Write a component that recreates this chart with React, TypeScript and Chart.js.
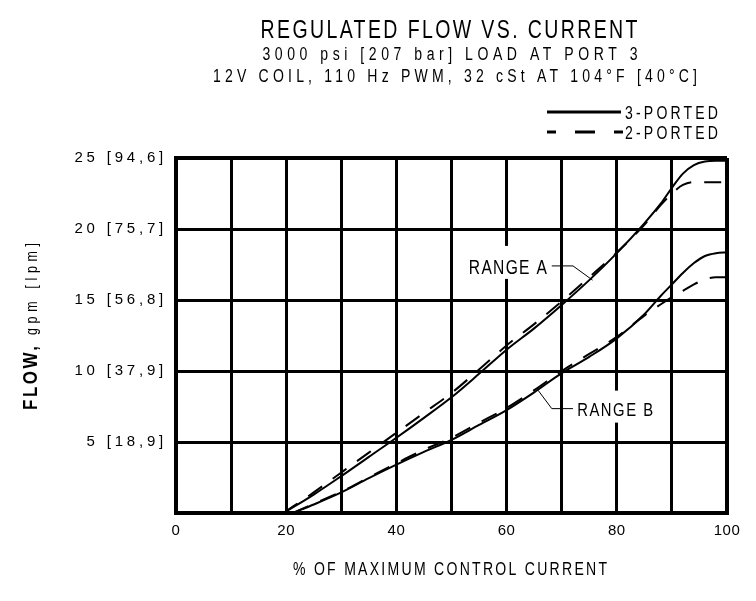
import { useEffect, useRef } from 'react';
import { Chart, registerables } from 'chart.js';

Chart.register(...registerables);

const FONT = '"Liberation Sans", Arial, sans-serif';

// ---------- data ----------
const titleLines = [
  'REGULATED FLOW VS. CURRENT',
  '3000 psi [207 bar] LOAD AT PORT 3',
  '12V COIL, 110 Hz PWM, 32 cSt AT 104°F [40°C]',
];
const xAxisTitle = '% OF MAXIMUM CONTROL CURRENT';
const yAxisTitleBold = 'FLOW,';
const yAxisTitleUnit = 'gpm [lpm]';
const seriesNames = ['3-PORTED', '2-PORTED'];
const rangeNames = ['RANGE A', 'RANGE B'];

const xTickLabels = ['0', '', '20', '', '40', '', '60', '', '80', '', '100'];
const yTickLabels = ['', '5 [18,9]', '10 [37,9]', '15 [56,8]', '20 [75,7]', '25 [94,6]'];

const pctA = [19.5, 25, 30, 35, 40, 45, 50, 55, 60, 65, 70, 75, 80, 85, 88, 90, 92, 94, 96, 98, 100];
const flowA3 = [0, 1.3, 2.6, 3.95, 5.3, 6.7, 8.15, 9.8, 11.5, 13.0, 14.65, 16.4, 18.3, 20.4, 21.8, 22.9, 23.9, 24.5, 24.75, 24.8, 24.8];
const flowA2 = [0, 1.45, 2.85, 4.25, 5.65, 7.05, 8.45, 10.1, 11.8, 13.3, 14.9, 16.6, 18.35, 20.3, 21.7, 22.5, 23.1, 23.3, 23.3, 23.3, 23.3];

const pctB = [21.2, 25, 30, 35, 40, 45, 50, 55, 60, 65, 70, 75, 80, 85, 88, 90, 92, 94, 96, 98, 100];
const flowB3 = [0, 0.6, 1.45, 2.45, 3.4, 4.3, 5.15, 6.2, 7.25, 8.5, 9.85, 11.0, 12.3, 14.0, 15.3, 16.1, 16.9, 17.6, 18.1, 18.3, 18.35];
const flowB2 = [0, 0.65, 1.5, 2.5, 3.5, 4.45, 5.3, 6.35, 7.4, 8.65, 10.0, 11.2, 12.4, 13.9, 14.7, 15.2, 15.65, 16.1, 16.45, 16.6, 16.6];

// label annotation anchors (data units): [textX, textY, elbowFromX, elbowToX, endX, endY]
const rangeALeader = [67.3, 17.4, 68.2, 72.05, 75.6, 16.4];
const rangeBLeader = [72.8, 7.35, 72.05, 68.2, 65.7, 8.65];

const toPoints = (xs: number[], ys: number[]) => xs.map((x, i) => ({ x, y: ys[i] }));

// draw condensed text (horizontally scaled) with letter spacing to fit a target width
function drawFit(
  ctx: CanvasRenderingContext2D,
  text: string,
  x: number,
  y: number,
  font: string,
  target: number,
  align: 'left' | 'center' | 'right' = 'left',
  squeeze = 0.78
) {
  ctx.save();
  ctx.font = font;
  (ctx as any).letterSpacing = '0px';
  const w = ctx.measureText(text).width;
  const n = text.length;
  let k = squeeze;
  if (w * k > target) k = target / w;
  const sp = n > 1 ? Math.max(0, (target / k - w) / (n - 1)) : 0;
  const total = (w + sp * (n - 1)) * k;
  let sx = x;
  if (align === 'center') sx = x - total / 2;
  if (align === 'right') sx = x - total;
  ctx.translate(sx, y);
  ctx.scale(k, 1);
  (ctx as any).letterSpacing = sp + 'px';
  ctx.textAlign = 'left';
  ctx.textBaseline = 'alphabetic';
  ctx.fillStyle = '#000';
  ctx.fillText(text, 0, 0);
  ctx.restore();
}

// per-axis letter spacing for the library's own tick labels
const tickSpacing: Record<string, string> = { x: '0.5px', y: '3.8px' };

const decorPlugin = {
  id: 'decor',
  beforeDraw(chart: any) {
    const ctx = chart.ctx;
    ctx.save();
    ctx.fillStyle = '#fff';
    ctx.fillRect(0, 0, chart.width, chart.height);
    ctx.restore();
    for (const id of ['x', 'y']) {
      const sc = chart.scales[id];
      if (sc && !sc.__spaced) {
        const orig = sc.drawLabels.bind(sc);
        sc.drawLabels = (area: any) => {
          const c = sc.ctx;
          const prev = (c as any).letterSpacing;
          (c as any).letterSpacing = tickSpacing[id];
          orig(area);
          (c as any).letterSpacing = prev;
        };
        sc.__spaced = true;
      }
    }
  },
  beforeDatasetsDraw(chart: any) {
    const ctx = chart.ctx;
    const xs = chart.scales.x;
    const ys = chart.scales.y;
    ctx.save();
    ctx.fillStyle = '#fff';
    const ax = xs.getPixelForValue(rangeALeader[0]);
    const ay = ys.getPixelForValue(rangeALeader[1]);
    ctx.fillRect(ax - 86, ay - 20, 90, 33);
    const bx = xs.getPixelForValue(rangeBLeader[0]);
    const by = ys.getPixelForValue(rangeBLeader[1]);
    ctx.fillRect(bx - 3, by - 18, 86, 32);
    ctx.restore();
  },
  afterDraw(chart: any) {
    const ctx = chart.ctx;
    const xs = chart.scales.x;
    const ys = chart.scales.y;
    (ctx as any).letterSpacing = '0px';

    drawFit(ctx, titleLines[0], 449, 38, `25px ${FONT}`, 377, 'center');
    drawFit(ctx, titleLines[1], 450, 60, `18px ${FONT}`, 375, 'center');
    drawFit(ctx, titleLines[2], 455, 82, `18px ${FONT}`, 484, 'center');

    ctx.save();
    ctx.strokeStyle = '#000';
    ctx.lineWidth = 3;
    ctx.beginPath();
    ctx.moveTo(547, 112);
    ctx.lineTo(621, 112);
    ctx.stroke();
    ctx.setLineDash([20, 19]);
    ctx.lineDashOffset = 11;
    ctx.beginPath();
    ctx.moveTo(547, 132);
    ctx.lineTo(623, 132);
    ctx.stroke();
    ctx.restore();
    drawFit(ctx, seriesNames[0], 625, 119, `18px ${FONT}`, 93);
    drawFit(ctx, seriesNames[1], 625, 139, `18px ${FONT}`, 93);

    drawFit(ctx, xAxisTitle, 450, 575, `18px ${FONT}`, 314, 'center');
    ctx.save();
    ctx.translate(37, 326);
    ctx.rotate(-Math.PI / 2);
    drawFit(ctx, yAxisTitleBold, -84, 0, `bold 20px ${FONT}`, 64, 'left', 0.85);
    drawFit(ctx, yAxisTitleUnit, -9, 0, `16px ${FONT}`, 92);
    ctx.restore();

    const drawLeader = (l: number[]) => {
      ctx.save();
      ctx.strokeStyle = '#000';
      ctx.lineWidth = 1;
      ctx.beginPath();
      ctx.moveTo(xs.getPixelForValue(l[2]), ys.getPixelForValue(l[1]));
      ctx.lineTo(xs.getPixelForValue(l[3]), ys.getPixelForValue(l[1]));
      ctx.lineTo(xs.getPixelForValue(l[4]), ys.getPixelForValue(l[5]));
      ctx.stroke();
      ctx.restore();
    };
    drawLeader(rangeALeader);
    drawLeader(rangeBLeader);
    const ax = xs.getPixelForValue(rangeALeader[0]);
    const ay = ys.getPixelForValue(rangeALeader[1]);
    drawFit(ctx, rangeNames[0], ax, ay + 8, `20px ${FONT}`, 78, 'right');
    const bx = xs.getPixelForValue(rangeBLeader[0]);
    const by = ys.getPixelForValue(rangeBLeader[1]);
    drawFit(ctx, rangeNames[1], bx, by + 7, `19px ${FONT}`, 76, 'left');
  },
};

export default function App() {
  const ref = useRef<HTMLCanvasElement | null>(null);
  useEffect(() => {
    document.body.style.margin = '0';
    const canvas = ref.current!;
    const lineBase = {
      borderColor: '#000',
      borderWidth: 2,
      pointRadius: 0,
      fill: false,
      cubicInterpolationMode: 'monotone' as const,
    };
    const chart = new Chart(canvas, {
      type: 'line',
      data: {
        datasets: [
          { ...lineBase, label: seriesNames[0] + ' A', data: toPoints(pctA, flowA3) },
          { ...lineBase, label: seriesNames[1] + ' A', data: toPoints(pctA, flowA2), borderDash: [17, 13] },
          { ...lineBase, label: seriesNames[0] + ' B', data: toPoints(pctB, flowB3) },
          { ...lineBase, label: seriesNames[1] + ' B', data: toPoints(pctB, flowB2), borderDash: [17, 13] },
        ],
      },
      options: {
        animation: false,
        responsive: false,
        devicePixelRatio: 1,
        layout: { padding: { left: 0, right: 29, top: 158, bottom: 0 } },
        plugins: {
          legend: { display: false },
          tooltip: { enabled: false },
          title: { display: false },
        },
        scales: {
          x: {
            type: 'linear',
            min: 0,
            max: 100,
            afterFit: (s: any) => {
              s.height = 88;
            },
            ticks: {
              stepSize: 10,
              autoSkip: false,
              maxRotation: 0,
              padding: 9,
              color: '#000',
              font: { family: FONT, size: 15 },
              callback: (_v: any, i: number) => xTickLabels[i],
            },
            grid: {
              color: '#000',
              drawTicks: false,
              lineWidth: (c: any) => (c.tick && (c.tick.value === 0 || c.tick.value === 100) ? 4 : 3),
            },
            border: { display: true, color: '#000', width: 4 },
          },
          y: {
            type: 'linear',
            min: 0,
            max: 25,
            afterFit: (s: any) => {
              s.width = 176;
            },
            ticks: {
              stepSize: 5,
              autoSkip: false,
              padding: 9,
              color: '#000',
              font: { family: FONT, size: 15 },
              callback: (_v: any, i: number) => yTickLabels[i],
            },
            grid: {
              color: '#000',
              drawTicks: false,
              lineWidth: (c: any) => (c.tick && (c.tick.value === 0 || c.tick.value === 25) ? 4 : 3),
            },
            border: { display: true, color: '#000', width: 4 },
          },
        },
      },
      plugins: [decorPlugin],
    });
    return () => chart.destroy();
  }, []);
  return <canvas ref={ref} width={756} height={601} style={{ display: 'block' }} />;
}
